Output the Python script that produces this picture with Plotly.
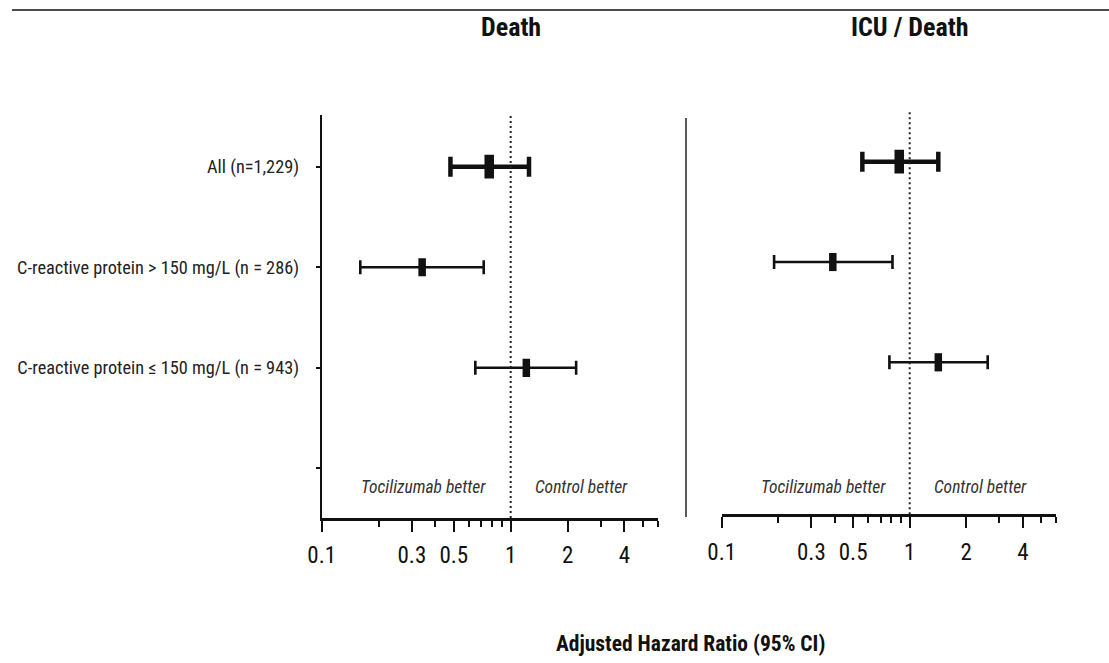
import math
import plotly.graph_objects as go

# ---------------- data ----------------
row_labels = ["All (n=1,229)",
              "C-reactive protein > 150 mg/L (n = 286)",
              "C-reactive protein \u2264 150 mg/L (n = 943)"]
death_hr = [0.77, 0.34, 1.21]
death_lo = [0.48, 0.16, 0.65]
death_hi = [1.25, 0.72, 2.22]
icu_hr = [0.88, 0.39, 1.42]
icu_lo = [0.56, 0.19, 0.78]
icu_hi = [1.42, 0.81, 2.60]
panel_titles = ["Death", "ICU / Death"]
major_ticks = [0.1, 0.3, 0.5, 1, 2, 4]
major_text = ["0.1", "0.3", "0.5", "1", "2", "4"]
minor_ticks = [0.2, 0.4, 0.6, 0.7, 0.8, 0.9, 3, 5, 6]
x_title = "Adjusted Hazard Ratio (95% CI)"
left_note = "Tocilizumab better"
right_note = "Control better"

W, H = 1109, 663
NARROW = "Roboto Condensed, Liberation Sans Narrow, Arial Narrow, DejaVu Sans Condensed, sans-serif"

def px_x(p):
    return p / W

def px_y(p):
    return 1 - p / H

fig = go.Figure()

panels = [
    dict(hr=death_hr, lo=death_lo, hi=death_hi, xa="x", ya="y"),
    dict(hr=icu_hr, lo=icu_lo, hi=icu_hi, xa="x2", ya="y2"),
]

for pnl in panels:
    for i in range(len(row_labels)):
        big = (i == 0)
        hr, lo, hi = pnl["hr"][i], pnl["lo"][i], pnl["hi"][i]
        fig.add_trace(go.Scatter(
            x=[hr], y=[i], xaxis=pnl["xa"], yaxis=pnl["ya"], mode="markers",
            marker=dict(symbol="line-ns", size=17 if big else 13, color="#111",
                        line=dict(width=9.5 if big else 7.5, color="#111")),
            error_x=dict(type="data", symmetric=False, array=[hi - hr],
                         arrayminus=[hr - lo], color="#111",
                         thickness=4.5 if big else 2.6, width=10 if big else 7),
            showlegend=False, hoverinfo="skip"))

xcommon = dict(type="log", range=[-1, math.log10(6)], showgrid=False, zeroline=False,
               automargin=False,
               showline=True, linecolor="#111", linewidth=2.5,
               ticks="outside", ticklen=11, tickwidth=2, tickcolor="#111",
               tickmode="array", tickvals=major_ticks, ticktext=major_text,
               ticklabelstandoff=4,
               tickfont=dict(family=NARROW, size=23, color="#111"),
               minor=dict(tickmode="array", tickvals=minor_ticks, ticks="outside",
                          ticklen=6, tickwidth=2, tickcolor="#111"))

L0 = 321.7
R0 = 721.7
fig.update_layout(
    width=W, height=H, margin=dict(l=0, r=0, t=0, b=0, autoexpand=False),
    plot_bgcolor="white", paper_bgcolor="white", showlegend=False,
    xaxis=dict(xcommon, domain=[px_x(L0), px_x(L0 + 1.778 * 189)], anchor="y"),
    xaxis2=dict(xcommon, domain=[px_x(R0), px_x(R0 + 1.778 * 188)], anchor="y2"),
    yaxis=dict(domain=[px_y(518), px_y(115)], range=[3.494, -0.514], anchor="x",
               automargin=False,
               showgrid=False, zeroline=False, showline=True, linecolor="#111",
               linewidth=2, ticks="outside", ticklen=4, tickwidth=2, tickcolor="#111",
               tickmode="array", tickvals=[0, 1, 2, 3], ticktext=row_labels + [""],
               ticklabelstandoff=13,
               tickfont=dict(family=NARROW, size=18.3, color="#222")),
    yaxis2=dict(domain=[px_y(514.3), px_y(110)], range=[3.515, -0.515], anchor="x2",
                automargin=False,
                showgrid=False, zeroline=False, showline=False, showticklabels=False,
                ticks=""),
)

shapes = []
for xa, ya in (("x", "y"), ("x2", "y2")):
    shapes.append(dict(type="line", xref=xa, yref=ya + " domain", x0=1, x1=1, y0=0, y1=1,
                       line=dict(color="#222", width=2, dash="2px,3px")))
shapes.append(dict(type="line", xref="paper", yref="paper", x0=px_x(686), x1=px_x(686),
                   y0=px_y(517), y1=px_y(118), line=dict(color="#222", width=1.5)))
shapes.append(dict(type="line", xref="paper", yref="paper", x0=px_x(12), x1=1,
                   y0=px_y(10), y1=px_y(10), line=dict(color="#111", width=1.5)))
fig.update_layout(shapes=shapes)

ann = []
for xa, t in (("x", panel_titles[0]), ("x2", panel_titles[1])):
    ann.append(dict(text="<b>%s</b>" % t, xref=xa, x=0, yref="paper", y=px_y(27),
                    showarrow=False, xanchor="center", yanchor="middle",
                    font=dict(family=NARROW, size=26, color="#111")))
for xa, ya, yv in (("x", "y", 3.183), ("x2", "y2", 3.24)):
    ann.append(dict(text="<i>%s</i>" % left_note, xref=xa, yref=ya, x=math.log10(0.347), y=yv,
                    showarrow=False, xanchor="center", yanchor="middle",
                    font=dict(family=NARROW, size=17.5, color="#333")))
    ann.append(dict(text="<i>%s</i>" % right_note, xref=xa, yref=ya, x=math.log10(2.37), y=yv,
                    showarrow=False, xanchor="center", yanchor="middle",
                    font=dict(family=NARROW, size=17.5, color="#333")))
ann.append(dict(text="<b>%s</b>" % x_title, xref="paper", yref="paper", x=px_x(690),
                y=px_y(643), showarrow=False, xanchor="center", yanchor="middle",
                font=dict(family=NARROW, size=21.5, color="#111")))
fig.update_layout(annotations=ann)

fig.write_html("out.html")
